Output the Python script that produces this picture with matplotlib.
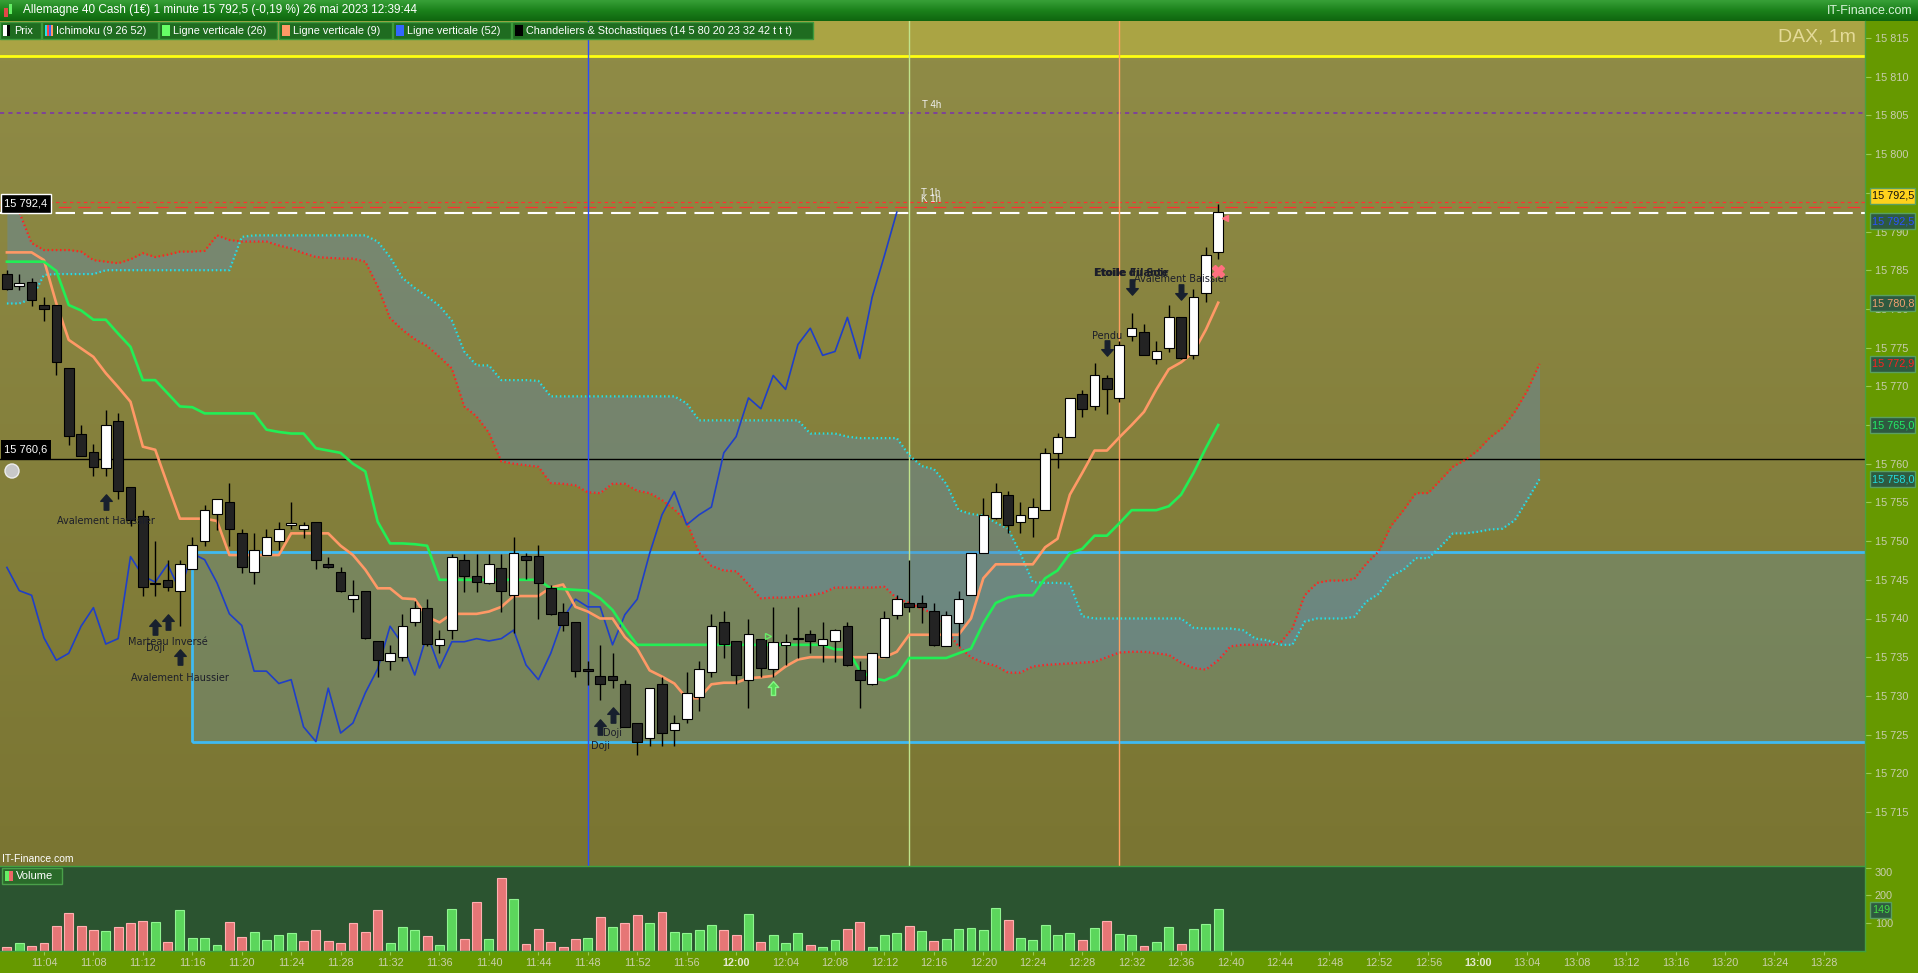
import numpy as np
import matplotlib
matplotlib.use('Agg')
import matplotlib.pyplot as plt
from matplotlib.patches import Rectangle, Circle
from matplotlib.path import Path
from matplotlib.colors import LinearSegmentedColormap

plt.rcParams['font.family'] = ['Liberation Sans', 'DejaVu Sans']
plt.rcParams['lines.scale_dashes'] = False

# ------------------------------------------------------------------ DATA
start_minute = 11 * 60 + 1          # first candle 11:01
displacement = 26                   # Ichimoku shift

opens = [15784.5, 15782.9, 15783.5, 15780.5, 15780.5, 15772.4, 15763.9, 15761.5, 15759.5, 15765.5,
         15757.0, 15753.2, 15744.6, 15745.0, 15743.5, 15746.4, 15750.0, 15753.5, 15755.0, 15751.1,
         15746.0, 15748.2, 15750.0, 15752.1, 15751.5, 15752.5, 15747.0, 15746.0, 15742.5, 15743.6,
         15737.1, 15734.5, 15735.0, 15739.5, 15741.4, 15736.6, 15738.5, 15747.6, 15745.5, 15744.6,
         15746.5, 15743.0, 15748.1, 15748.1, 15744.0, 15740.9, 15739.5, 15733.5, 15732.6, 15732.6,
         15731.6, 15726.5, 15724.5, 15731.6, 15725.6, 15727.0, 15729.9, 15733.1, 15739.5, 15737.1,
         15732.1, 15737.4, 15733.5, 15736.6, 15737.4, 15738.0, 15736.6, 15737.1, 15739.0, 15733.4,
         15731.5, 15735.0, 15740.5, 15742.0, 15742.0, 15741.0, 15736.5, 15739.4, 15743.0, 15748.4,
         15753.0, 15756.0, 15752.5, 15753.0, 15754.0, 15761.4, 15763.5, 15769.0, 15767.4, 15771.1,
         15768.5, 15776.5, 15777.0, 15773.5, 15775.0, 15778.9, 15774.0, 15782.0, 15787.4]
highs = [15785.0, 15784.5, 15784.0, 15781.5, 15780.5, 15772.4, 15765.0, 15762.5, 15767.0, 15766.5,
         15757.0, 15754.0, 15750.0, 15747.6, 15747.6, 15750.5, 15754.6, 15755.5, 15757.5, 15751.6,
         15751.1, 15751.6, 15752.5, 15755.1, 15752.5, 15752.5, 15748.0, 15746.6, 15745.0, 15743.6,
         15737.1, 15736.6, 15740.6, 15742.3, 15742.5, 15738.5, 15748.3, 15748.3, 15748.3, 15748.3,
         15748.3, 15750.5, 15748.4, 15749.5, 15744.3, 15742.0, 15739.5, 15734.5, 15736.6, 15735.5,
         15732.1, 15726.5, 15731.0, 15732.5, 15727.5, 15733.1, 15734.5, 15740.6, 15741.0, 15737.1,
         15740.0, 15737.4, 15741.5, 15738.0, 15741.5, 15738.5, 15739.5, 15738.6, 15739.5, 15734.5,
         15735.5, 15741.0, 15743.1, 15747.5, 15743.0, 15742.0, 15741.0, 15743.6, 15748.4, 15755.6,
         15757.5, 15756.5, 15755.0, 15755.6, 15762.0, 15764.0, 15768.5, 15769.5, 15773.0, 15771.5,
         15775.9, 15779.5, 15778.1, 15775.9, 15780.5, 15778.9, 15782.6, 15788.0, 15793.6]
lows = [15782.4, 15782.4, 15780.4, 15778.5, 15771.4, 15762.4, 15761.0, 15758.4, 15758.4, 15755.5,
        15752.0, 15742.9, 15742.9, 15743.5, 15739.0, 15746.4, 15749.4, 15751.4, 15749.4, 15745.9,
        15744.5, 15748.2, 15748.9, 15751.5, 15750.4, 15746.4, 15746.5, 15743.4, 15740.9, 15737.4,
        15732.5, 15733.4, 15734.5, 15739.0, 15736.5, 15735.5, 15737.4, 15743.4, 15743.4, 15744.5,
        15740.9, 15738.1, 15745.1, 15740.0, 15740.4, 15738.4, 15732.5, 15731.4, 15729.5, 15731.0,
        15726.0, 15722.4, 15723.5, 15723.5, 15723.5, 15726.5, 15728.0, 15732.5, 15734.9, 15731.6,
        15728.5, 15732.5, 15732.5, 15734.0, 15734.9, 15735.5, 15734.4, 15734.4, 15733.9, 15728.5,
        15731.4, 15735.0, 15740.0, 15740.8, 15739.4, 15736.4, 15736.5, 15736.4, 15743.0, 15748.4,
        15752.9, 15751.0, 15751.0, 15750.5, 15754.0, 15759.5, 15763.5, 15766.0, 15767.0, 15766.4,
        15768.0, 15775.9, 15774.0, 15772.9, 15774.4, 15773.5, 15773.5, 15780.9, 15786.4]
closes = [15782.6, 15783.4, 15781.1, 15780.0, 15773.1, 15763.6, 15761.0, 15759.6, 15765.0, 15756.5,
          15752.7, 15744.1, 15744.5, 15744.1, 15747.0, 15749.5, 15754.0, 15755.5, 15751.6, 15746.6,
          15748.9, 15750.5, 15751.5, 15752.4, 15752.1, 15747.6, 15746.6, 15743.6, 15743.0, 15737.5,
          15734.6, 15735.5, 15739.0, 15741.4, 15736.7, 15737.4, 15748.0, 15745.5, 15744.7, 15747.0,
          15743.6, 15748.4, 15747.6, 15744.6, 15740.6, 15739.1, 15733.2, 15733.2, 15731.6, 15732.1,
          15726.0, 15724.1, 15731.0, 15725.2, 15726.5, 15730.4, 15733.5, 15739.0, 15736.7, 15732.7,
          15738.0, 15733.6, 15737.0, 15737.0, 15737.4, 15737.1, 15737.4, 15738.5, 15734.0, 15732.1,
          15735.5, 15740.0, 15742.5, 15741.5, 15741.5, 15736.6, 15740.5, 15742.5, 15748.4, 15753.4,
          15756.4, 15752.1, 15753.4, 15754.4, 15761.4, 15763.5, 15768.5, 15767.1, 15771.4, 15769.6,
          15775.4, 15777.5, 15774.0, 15774.5, 15778.9, 15773.6, 15781.5, 15786.9, 15792.5]

volumes = [12, 26, 15, 26, 88, 135, 88, 73, 70, 84,
           99, 106, 103, 30, 146, 45, 45, 19, 103, 48,
           66, 37, 55, 63, 34, 73, 34, 26, 99, 66,
           146, 26, 84, 73, 52, 19, 150, 41, 175, 41,
           262, 186, 23, 77, 30, 12, 41, 45, 121, 84,
           99, 128, 99, 139, 66, 63, 73, 92, 73, 55,
           131, 30, 55, 26, 63, 19, 12, 37, 77, 103,
           12, 55, 63, 88, 70, 34, 41, 77, 81, 73,
           153, 110, 45, 37, 92, 55, 63, 37, 81, 106,
           59, 55, 15, 30, 84, 23, 77, 95, 149]
volume_up = [0, 1, 0, 0, 0, 0, 0, 0, 1, 0,
             0, 0, 1, 0, 1, 1, 1, 1, 0, 0,
             1, 1, 1, 1, 0, 0, 0, 0, 0, 0,
             0, 1, 1, 1, 0, 1, 1, 0, 0, 1,
             0, 1, 0, 0, 0, 0, 0, 1, 0, 1,
             0, 0, 1, 0, 1, 1, 1, 1, 0, 0,
             1, 0, 1, 1, 1, 0, 1, 1, 0, 0,
             1, 1, 1, 0, 1, 0, 1, 1, 1, 1,
             1, 0, 1, 1, 1, 1, 1, 0, 1, 0,
             1, 1, 0, 1, 1, 0, 1, 1, 1]

tenkan = [15787.3, 15787.3, 15787.3, 15786.3, 15780.7, 15776.0, 15774.9, 15773.8, 15771.7, 15769.9,
          15768.0, 15762.2, 15761.8, 15757.3, 15752.9, 15752.9, 15752.9, 15752.6, 15748.2, 15748.2,
          15748.2, 15748.2, 15748.2, 15751.0, 15751.0, 15751.0, 15751.0, 15749.4, 15748.2, 15746.3,
          15743.9, 15743.9, 15742.6, 15742.5, 15740.2, 15739.5, 15740.6, 15740.6, 15740.6, 15740.9,
          15741.5, 15742.9, 15742.9, 15742.9, 15744.0, 15744.4, 15741.5, 15740.9, 15740.0, 15740.0,
          15737.6, 15736.1, 15733.3, 15732.5, 15731.6, 15729.7, 15729.7, 15731.5, 15731.7, 15731.7,
          15732.3, 15732.4, 15732.6, 15733.8, 15734.7, 15735.0, 15735.0, 15735.0, 15735.0, 15735.0,
          15735.0, 15735.0, 15735.7, 15737.9, 15737.9, 15737.9, 15737.9, 15737.9, 15740.0, 15745.2,
          15747.0, 15747.0, 15747.0, 15747.0, 15749.2, 15750.3, 15756.0, 15758.8, 15761.7, 15761.7,
          15763.4, 15765.0, 15766.7, 15769.6, 15772.2, 15773.1, 15774.4, 15777.3, 15780.8]
kijun = [15786.1, 15786.1, 15786.1, 15786.1, 15784.9, 15780.5, 15779.8, 15778.6, 15778.6, 15776.8,
         15775.1, 15770.8, 15770.8, 15769.1, 15767.4, 15767.3, 15766.5, 15766.5, 15766.5, 15766.5,
         15766.5, 15764.4, 15764.1, 15763.9, 15763.9, 15762.0, 15761.7, 15761.4, 15760.0, 15759.0,
         15752.5, 15749.7, 15749.7, 15749.6, 15749.4, 15745.0, 15745.0, 15745.0, 15745.0, 15745.0,
         15745.0, 15745.0, 15745.0, 15745.0, 15743.9, 15743.8, 15743.7, 15743.6, 15742.6, 15741.1,
         15738.7, 15736.6, 15736.6, 15736.6, 15736.6, 15736.6, 15736.6, 15736.6, 15736.6, 15736.6,
         15736.6, 15736.6, 15736.6, 15736.6, 15736.6, 15736.6, 15736.6, 15736.0, 15736.0, 15733.3,
         15732.3, 15732.0, 15732.7, 15734.9, 15734.9, 15734.9, 15734.9, 15735.5, 15736.1, 15739.4,
         15742.0, 15742.7, 15743.0, 15743.0, 15745.2, 15746.2, 15748.4, 15749.0, 15750.7, 15750.7,
         15752.3, 15754.0, 15754.0, 15754.0, 15754.5, 15756.0, 15758.8, 15762.0, 15765.0]
senkou_a = [15794.5, 15792.5, 15788.5, 15787.6, 15787.6, 15787.6, 15787.4, 15786.3, 15786.1, 15785.9,
            15786.4, 15787.2, 15786.7, 15787.0, 15787.4, 15787.4, 15787.5, 15789.5, 15788.9, 15788.7,
            15788.7, 15788.7, 15788.2, 15787.8, 15787.2, 15786.7, 15786.6, 15786.5, 15786.5, 15786.1,
            15782.9, 15778.8, 15777.3, 15776.1, 15775.2, 15773.8, 15772.3, 15767.4, 15766.1, 15764.0,
            15760.3, 15760.0, 15759.8, 15759.6, 15757.5, 15757.4, 15757.2, 15756.3, 15756.2, 15757.4,
            15757.4, 15756.5, 15756.2, 15755.3, 15754.1, 15752.5, 15748.5, 15746.8, 15746.2, 15746.1,
            15744.4, 15742.6, 15742.7, 15742.7, 15742.8, 15743.0, 15743.3, 15744.0, 15744.0, 15744.0,
            15744.0, 15744.1, 15742.6, 15742.0, 15741.3, 15740.6, 15738.5, 15736.4, 15735.0, 15734.3,
            15733.9, 15733.0, 15733.0, 15733.8, 15734.0, 15734.1, 15734.2, 15734.3, 15734.4, 15735.0,
            15735.6, 15735.7, 15735.7, 15735.5, 15735.3, 15734.3, 15733.6, 15733.4, 15734.6, 15736.4,
            15736.6, 15736.6, 15736.6, 15736.8, 15738.7, 15743.0, 15744.6, 15744.9, 15744.9, 15745.1,
            15747.1, 15748.7, 15752.0, 15754.0, 15756.2, 15756.2, 15757.9, 15759.6, 15760.5, 15761.7,
            15763.4, 15764.6, 15766.7, 15769.4, 15772.9]
senkou_b = [15780.7, 15780.7, 15781.3, 15784.4, 15784.5, 15784.5, 15784.5, 15784.5, 15785.0, 15785.0,
            15785.0, 15785.0, 15785.0, 15785.0, 15785.0, 15785.0, 15785.0, 15785.0, 15785.0, 15789.3,
            15789.5, 15789.5, 15789.5, 15789.5, 15789.5, 15789.5, 15789.5, 15789.5, 15789.5, 15789.5,
            15788.7, 15786.7, 15784.0, 15782.7, 15781.6, 15780.4, 15778.5, 15774.5, 15772.7, 15772.7,
            15770.8, 15770.8, 15770.8, 15770.7, 15768.7, 15768.7, 15768.7, 15768.7, 15768.7, 15768.7,
            15768.7, 15768.7, 15768.7, 15768.7, 15768.7, 15767.8, 15765.6, 15765.6, 15765.6, 15765.6,
            15765.6, 15765.6, 15765.6, 15765.6, 15765.6, 15763.9, 15763.9, 15763.9, 15763.5, 15763.3,
            15763.3, 15763.3, 15763.3, 15761.1, 15759.7, 15759.3, 15757.4, 15754.0, 15753.5, 15753.3,
            15752.4, 15751.6, 15748.4, 15744.7, 15744.6, 15744.6, 15744.5, 15740.3, 15740.0, 15740.0,
            15740.0, 15740.0, 15740.0, 15740.0, 15740.0, 15740.0, 15738.8, 15738.7, 15738.7, 15738.7,
            15738.5, 15737.4, 15737.2, 15736.6, 15736.6, 15739.6, 15740.0, 15740.0, 15740.0, 15740.2,
            15742.2, 15743.2, 15745.5, 15746.3, 15747.8, 15747.8, 15749.3, 15751.0, 15751.0, 15751.2,
            15751.5, 15751.6, 15752.7, 15755.3, 15758.0]

# horizontal levels
level_yellow = 15812.7
level_tenkan_4h = 15805.3
level_t1h = 15793.8
level_k1h = 15793.2
level_white = 15792.4
level_black = 15760.6
rect_top, rect_bottom, rect_start = 15748.6, 15724.1, 15   # rectangle from 11:16
vlines_idx = {'blue': 47, 'pale': 73, 'orange': 90}          # 11:48, 12:14, 12:31

patterns = [  # (candle idx, arrow price, text price, label, direction)
    (8, 15755.0, 15752.6, 'Avalement Haussier', 'up'),
    (12, 15738.9, 15736.2, 'Doji', 'up'),
    (13, 15739.5, 15737.0, 'Marteau Inversé', 'up'),
    (14, 15735.0, 15732.3, 'Avalement Haussier', 'up'),
    (48, 15726.0, 15723.5, 'Doji', 'up'),
    (49, 15727.5, 15725.2, 'Doji', 'up'),
    (89, 15774.9, 15776.5, 'Pendu', 'down'),
    (91, 15782.8, 15784.6, 'Etoile Filante', 'down'),
    (91, 15782.8, 15784.6, 'Etoile du Soir', 'none'),
    (95, 15782.2, 15783.9, 'Avalement Baissier', 'down'),
]

n = len(opens)
idx = np.arange(n)
times = [f"{(start_minute + i) // 60}:{(start_minute + i) % 60:02d}" for i in range(160)]

# ------------------------------------------------------------------ LAYOUT
W, H = 1918, 973
PXR = 1865
MT, MB, VB = 21, 866, 951
X0, DX = 6.9, 12.36
XL, XR = (0 - X0) / DX, (PXR - X0) / DX
YT = 15815 + (38 - MT) / 7.74
YB = 15815 - (MB - 38) / 7.74

fig = plt.figure(figsize=(W / 100, H / 100), dpi=100, facecolor='#669900')
ax = fig.add_axes([0, 1 - MB / H, PXR / W, (MB - MT) / H])
axv = fig.add_axes([0, 1 - VB / H, PXR / W, (VB - MB) / H])

grad = np.linspace(0, 1, 256).reshape(-1, 1)
ax.imshow(grad, extent=[0, 1, 0, 1], transform=ax.transAxes, aspect='auto', zorder=0,
          cmap=LinearSegmentedColormap.from_list('bg', ['#908c47', '#7a7532']))
ax.axhspan(level_yellow, YT + 1, color='#aaa444', zorder=0.5, lw=0)

# rectangle zone
ax.add_patch(Rectangle((rect_start, rect_bottom), XR + 5 - rect_start, rect_top - rect_bottom,
                       facecolor='#5fa0c8', alpha=0.25, edgecolor='none', zorder=1))
ax.add_patch(Rectangle((rect_start, rect_bottom), XR + 5 - rect_start, rect_top - rect_bottom,
                       facecolor='none', edgecolor='#3fbaf2', lw=2, zorder=1.1))

# cloud
sidx = np.arange(len(senkou_a))
ax.fill_between(sidx, senkou_a, senkou_b, color='#5f8ab0', alpha=0.42, lw=0, zorder=2)
dot = (0, (1.1, 1.9))
ax.plot(sidx, senkou_a, color='#ff2222', lw=1.6, ls=dot, zorder=4)
ax.plot(sidx, senkou_b, color='#22e0e8', lw=1.6, ls=dot, zorder=4)

# horizontal lines
ax.axhline(level_yellow, color='#ffff10', lw=2, zorder=3)
ax.axhline(level_tenkan_4h, color='#7a30b0', lw=1.1, ls=(0, (3, 3)), zorder=3)
ax.axhline(level_t1h, color='#ff3030', lw=0.9, ls=(0, (2.5, 2.5)), zorder=3)
ax.axhline(level_k1h, color='#ff3030', lw=0.9, ls=(0, (9, 5)), zorder=3)
ax.axhline(level_white, color='white', lw=1.5, ls=(0, (14, 6)), zorder=3)
ax.axhline(level_black, color='black', lw=1, zorder=3)

# vertical lines
ax.axvline(vlines_idx['blue'], color='#2a4cff', lw=1, zorder=3)
ax.axvline(vlines_idx['pale'], color='#c0e48c', lw=1, zorder=3)
ax.axvline(vlines_idx['orange'], color='#ffa060', lw=1, zorder=3)

# chikou, tenkan, kijun
ax.plot(idx[:n - displacement], closes[displacement:], color='#1f3fc8', lw=1.2, zorder=4.5)
ax.plot(idx, tenkan, color='#ff9966', lw=1.9, zorder=5, solid_joinstyle='round')
ax.plot(idx, kijun, color='#22ee55', lw=1.9, zorder=5, solid_joinstyle='round')

# candles
o = np.array(opens); c = np.array(closes)
ax.vlines(idx, lows, highs, color='black', lw=1, zorder=6)
bull = c >= o
ax.bar(idx, np.maximum(np.abs(c - o), 0.13), bottom=np.minimum(o, c), width=0.78,
       color=np.where(bull, '#ffffff', '#232323'), edgecolor='black', lw=0.8, zorder=7)

# pattern arrows
up_path = Path([(0, 1), (0.75, 0.15), (0.3, 0.15), (0.3, -1), (-0.3, -1), (-0.3, 0.15),
                (-0.75, 0.15), (0, 1)], closed=True)
down_path = Path([(x, -y) for x, y in up_path.vertices], closed=True)
for i, ya, yt, lab, d in patterns:
    if d == 'up':
        ax.plot(i, ya, marker=up_path, ms=11, color='#18202e', ls='none', zorder=8)
    elif d == 'down':
        ax.plot(i, ya, marker=down_path, ms=11, color='#18202e', ls='none', zorder=8)
    ax.text(i, yt, lab, ha='center', va='center', fontsize=7, color='#1c1e2a', zorder=8,
            family=['DejaVu Sans'], fontweight='bold' if lab.startswith('Etoile') else 'normal')
ax.plot(62, 15731.0, marker=up_path, ms=10, mfc='#55e055', mec='#88ff88', alpha=0.9, ls='none', zorder=8)
ax.plot(61.55, 15737.7, marker='>', ms=5, mfc='none', mec='#66ee66', ls='none', zorder=8)
ax.plot(98, 15784.9, marker='X', ms=8, color='#ff6f7f', ls='none', zorder=8)
ax.plot(98.55, 15791.8, marker='<', ms=5, color='#ff6f7f', ls='none', zorder=8)

ax.set_xlim(XL, XR)
ax.set_ylim(YB, YT)
ax.yaxis.tick_right()
yt = np.arange(15715, 15816, 5)
ax.set_yticks(yt)
ax.set_yticklabels([f"{v // 1000} {v % 1000:03d}" for v in yt])
ax.tick_params(axis='y', color='#9cc850', labelcolor='#c9cdb0', labelsize=7.8, length=4, pad=3)
ax.tick_params(axis='x', bottom=False, labelbottom=False)
for s in ax.spines.values():
    s.set_visible(False)

# volume
axv.set_facecolor('#2b5430')
up = np.array(volume_up) == 1
axv.bar(idx, volumes, width=0.72, color=np.where(up, '#5cd65c', '#e67676'),
        edgecolor=np.where(up, '#90f590', '#ffb0b0'), lw=0.8, zorder=3)
axv.set_xlim(XL, XR)
axv.set_ylim(-1.45, 306.5)
axv.yaxis.tick_right()
axv.set_yticks([100, 200, 300])
axv.set_yticklabels(['100', '200', '300'])
axv.get_yticklabels()[2].set_va('top')
axv.tick_params(axis='y', color='#9cc850', labelcolor='#c9cdb0', labelsize=7.8, length=4, pad=3)
xt = np.arange(3, 148, 4)
axv.set_xticks(xt)
axv.set_xticklabels([times[i] for i in xt])
axv.tick_params(axis='x', color='#9cc850', labelcolor='#c9cfaa', labelsize=7.8, length=3, pad=2)
for lbl, i in zip(axv.get_xticklabels(), xt):
    if times[i].endswith(':00'):
        lbl.set_fontweight('bold')
        lbl.set_color('#e4e8d0')
for s in axv.spines.values():
    s.set_visible(False)

# ------------------------------------------------------------------ OVERLAY
ov = fig.add_axes([0, 0, 1, 1], zorder=20)
ov.patch.set_alpha(0)
ov.axis('off')
tg = np.linspace(0, 1, 64).reshape(-1, 1)
ov.imshow(tg, extent=[0, W, MT, 0], aspect='auto', origin='upper',
          cmap=LinearSegmentedColormap.from_list('tb', ['#38a038', '#1b811b', '#0f660f']), zorder=0)
ov.add_patch(Rectangle((4, 8), 3.5, 9, facecolor='#e04848', edgecolor='none'))
ov.add_patch(Rectangle((8.5, 4), 3.5, 10, facecolor='#66ee66', edgecolor='none'))
ov.text(23, 10.5, "Allemagne 40 Cash (1€) 1 minute 15 792,5 (-0,19 %) 26 mai 2023 12:39:44",
        color='white', fontsize=8.5, va='center', ha='left')
ov.text(1913, 10.5, "IT-Finance.com", color='#d8f2d8', fontsize=9, va='center', ha='right')

legend_items = [('Prix', 0, 41), ('Ichimoku (9 26 52)', 42, 158), ('Ligne verticale (26)', 159, 277),
                ('Ligne verticale (9)', 279, 392), ('Ligne verticale (52)', 393, 511),
                ('Chandeliers & Stochastiques (14 5 80 20 23 32 42 t t t)', 512, 813)]
sw_cols = [None, None, '#66ff66', '#ff9966', '#3366ff', '#000000']
for (lab, x0, x1), sc in zip(legend_items, sw_cols):
    ov.add_patch(Rectangle((x0, 22), x1 - x0, 17, facecolor='#1f6c20', edgecolor='#3d9a3d', lw=1))
    if lab == 'Prix':
        ov.add_patch(Rectangle((x0 + 3, 25), 3.5, 11, facecolor='white', edgecolor='none'))
        ov.add_patch(Rectangle((x0 + 6.5, 25), 3.5, 11, facecolor='black', edgecolor='none'))
    elif lab.startswith('Ichimoku'):
        for k, cc in enumerate(['#22e0e8', '#ff4444', '#3366ff', '#ff9966']):
            ov.add_patch(Rectangle((x0 + 3 + k * 2, 25), 2, 11, facecolor=cc, edgecolor='none'))
    else:
        ov.add_patch(Rectangle((x0 + 3, 25), 8, 11, facecolor=sc, edgecolor='none'))
    ov.text(x0 + 14, 30.5, lab, color='white', fontsize=7.8, va='center', ha='left')

ov.text(1856, 37, "DAX, 1m", color='#e4da98', fontsize=14, va='center', ha='right')
ov.text(922, 105, "T 4h", color='#f2f2f2', fontsize=7, va='center', ha='left')
ov.text(921, 193, "T 1h", color='#eeeeee', fontsize=7, va='center', ha='left')
ov.text(921, 199, "K 1h", color='#eeeeee', fontsize=7, va='center', ha='left')

ov.add_patch(Rectangle((1, 194), 50, 19, facecolor='black', edgecolor='white', lw=1))
ov.text(4, 204, "15 792,4", color='white', fontsize=8, va='center', ha='left')
ov.add_patch(Rectangle((1, 440), 50, 19, facecolor='black', edgecolor='none'))
ov.text(4, 450, "15 760,6", color='white', fontsize=8, va='center', ha='left')
ov.add_patch(Circle((12, 471), 7, facecolor='#c8c8c8', edgecolor='#eeeeee', lw=1))

ov.text(2, 859, "IT-Finance.com", color='white', fontsize=7.5, va='center', ha='left')
ov.add_patch(Rectangle((2, 868), 60, 16, facecolor='#2a6a2a', edgecolor='#4aa04a', lw=1))
ov.add_patch(Rectangle((5, 871), 4, 10, facecolor='#66ee66', edgecolor='none'))
ov.add_patch(Rectangle((9, 871), 4, 10, facecolor='#ee6666', edgecolor='none'))
ov.text(16, 876, "Volume", color='white', fontsize=8, va='center', ha='left')

# panel borders
ov.plot([PXR, PXR], [MT, VB], color='#4aa040', lw=1)
ov.plot([0, PXR], [MB, MB], color='#40a040', lw=1)
ov.plot([0, PXR], [VB, VB], color='#40a040', lw=1)

# right axis value markers
markers = [(196, "15 792,5", '#ffd21c', '#111111', 45), (221, "15 792,5", '#2e5a40', '#2a50ff', 45),
           (303, "15 780,8", '#2e5a40', '#f2a070', 45), (364, "15 772,9", '#2e5a40', '#ff2020', 45),
           (425, "15 765,0", '#2e5a40', '#22ee66', 45), (479, "15 758,0", '#2e5a40', '#22dddd', 45),
           (910, "149", '#2e5a40', '#44dd44', 21)]
for yc, lab, fc, tc, w in markers:
    ov.add_patch(Rectangle((1870, yc - 8), w, 16, facecolor=fc, edgecolor='#5aa060', lw=1))
    ov.text(1872, yc, lab, color=tc, fontsize=7.8, va='center', ha='left')

ov.set_xlim(0, W)
ov.set_ylim(H, 0)

fig.savefig('out.png', dpi=100, facecolor=fig.get_facecolor())
